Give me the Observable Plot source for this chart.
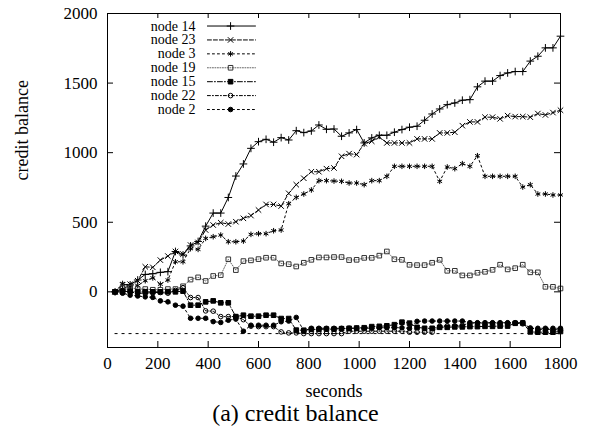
<!DOCTYPE html>
<html><head><meta charset="utf-8">
<script src="https://cdn.jsdelivr.net/npm/d3@7"></script>
<script src="https://cdn.jsdelivr.net/npm/@observablehq/plot@0.6"></script>
<style>
body{margin:0;background:#fff;font-family:"Liberation Serif",serif;}
svg text{font-family:"Liberation Serif",serif !important;}
#caption{width:591px;text-align:center;font-size:24px;line-height:23px;height:24px;color:#000;font-family:"Liberation Serif",serif;}
</style></head><body>
<div id="chart"></div><div id="caption">(a) credit balance</div>
<script>
const seconds = d3.range(30, 1801, 30);
const node14 = [0,20,50,85,125,130,140,145,290,265,330,
 362,472,566,566,678,832,919,1031,1079,1096,1075,
 1108,1091,1158,1144,1156,1199,1168,1170,1118,1142,1166,
 1070,1106,1125,1125,1147,1166,1183,1190,1233,1278,1314,
 1345,1357,1377,1381,1473,1514,1514,1554,1573,1583,1583,
 1658,1693,1753,1753,1837];
const node23 = [0,50,55,80,180,176,228,257,290,271,336,
 355,444,480,497,487,504,528,548,588,628,628,
 616,708,770,816,863,863,885,890,974,993,986,
 1065,1082,1113,1070,1070,1070,1070,1099,1099,1099,1142,
 1142,1147,1194,1221,1221,1255,1255,1243,1266,1259,1259,
 1255,1281,1271,1288,1305];
const node3 = [0,60,40,45,80,100,55,85,216,216,310,
 305,384,396,408,360,360,365,413,418,418,439,
 444,633,679,703,732,799,799,796,794,782,782,
 770,799,799,830,902,902,902,902,902,902,794,
 897,885,921,902,978,830,830,830,830,830,753,
 770,703,703,696,696];
const node19 = [0,30,30,20,20,15,15,20,20,40,88,
 104,78,114,120,234,156,221,226,235,245,245,
 204,199,182,209,230,247,247,250,250,228,230,
 244,244,260,290,234,230,194,192,192,209,230,
 151,151,118,118,137,144,158,195,161,170,195,
 140,140,36,36,24];
const node15 = [0,0,5,0,0,0,0,0,0,5,-96,
 -96,-72,-65,-79,-79,-178,-168,-175,-175,-168,-168,
 -192,-192,-275,-276,-270,-270,-268,-268,-265,-262,-260,
 -258,-250,-248,-244,-236,-218,-225,-255,-262,-262,-255,
 -255,-252,-252,-250,-250,-248,-248,-246,-246,-226,-224,
 -288,-290,-290,-290,-285];
const node22 = [0,10,0,-10,-10,-5,-5,-10,10,30,-41,
 -41,-137,-139,-178,-178,-178,-200,-247,-250,-250,-250,
 -288,-295,-295,-300,-300,-300,-300,-300,-300,-283,-283,
 -283,-283,-283,-283,-283,-283,-290,-290,-290,-290,-250,
 -245,-245,-240,-224,-224,-224,-224,-224,-224,-224,-230,
 -260,-270,-270,-270,-275];
const node2 = [0,-10,-24,-30,-36,-40,-65,-72,-96,-103,-190,
 -190,-190,-214,-220,-204,-196,-283,-240,-240,-240,-240,
 -215,-210,-184,-280,-262,-262,-262,-262,-262,-262,-262,
 -262,-262,-258,-258,-258,-258,-262,-212,-210,-210,-210,
 -210,-210,-210,-222,-222,-222,-222,-222,-222,-222,-222,
 -262,-262,-262,-262,-262];
const seriesNames = ["node 14","node 23","node 3","node 19","node 15","node 22","node 2"];
const seriesValues = [node14,node23,node3,node19,node15,node22,node2];
const xTicks = [0,200,400,600,800,1000,1200,1400,1600,1800];
const yTicks = [0,500,1000,1500,2000];
const creditLimit = -300;

const styles = [
  {dash:null,        symbol:"plus",     fill:"none",  stroke:"black", line:"black", r:2.6},
  {dash:"4,2",       symbol:"times",    fill:"none",  stroke:"black", line:"black", r:2.6},
  {dash:"2,3",       symbol:"asterisk", fill:"none",  stroke:"black", line:"black", r:2.6},
  {dash:"1,1.5",     symbol:"square",   fill:"none",  stroke:"#333",  line:"#666",  r:2.6},
  {dash:"5,2,1,2",   symbol:"square",   fill:"black", stroke:"black", line:"black", r:2.6},
  {dash:"3,2,1,2",   symbol:"circle",   fill:"none",  stroke:"black", line:"black", r:2.3},
  {dash:"2,3",       symbol:"circle",   fill:"black", stroke:"black", line:"black", r:2.3}
];

const W = 591, H = 402, mL = 107, mR = 31, mT = 13, mB = 55;
const fw = W - mL - mR, fh = H - mT - mB;
const serif = "Liberation Serif";

const series = seriesNames.map((name, i) => ({
  name, style: styles[i],
  data: seconds.map((t, j) => ({t, v: seriesValues[i][j]}))
}));

// legend placement (data units)
const legX = 350, legX1 = 397, legX2 = 588, legXm = 489, legTop = 1910, legStep = 100;

const marks = [
  Plot.ruleY([creditLimit], {x1: seconds[0], x2: seconds[seconds.length - 1], stroke: "black", strokeWidth: 1, strokeDasharray: "3,4"}),
  ...series.map(s => Plot.line(s.data, {x: "t", y: "v", stroke: s.style.line, strokeWidth: 1, strokeDasharray: s.style.dash})),
  ...series.map(s => Plot.dot(s.data, {x: "t", y: "v", symbol: s.style.symbol, r: s.style.r, fill: s.style.fill, stroke: s.style.stroke, strokeWidth: 1})),
  Plot.frame({stroke: "black", strokeWidth: 1}),
  Plot.tickX(xTicks, {x: d => d, insetTop: fh - 6, stroke: "black"}),
  Plot.tickX(xTicks, {x: d => d, insetBottom: fh - 5, stroke: "black"}),
  Plot.tickY(yTicks, {y: d => d, insetRight: fw - 6, stroke: "black"}),
  Plot.tickY(yTicks, {y: d => d, insetLeft: fw - 6, stroke: "black"}),
  Plot.text(xTicks, {x: d => d, frameAnchor: "bottom", dy: 21, text: d => String(d), fontSize: 17, fontFamily: serif}),
  Plot.text(yTicks, {y: d => d, frameAnchor: "left", dx: -10, textAnchor: "end", text: d => String(d), fontSize: 17, fontFamily: serif}),
  Plot.text(["seconds"], {frameAnchor: "bottom", dy: 49, text: d => d, fontSize: 18, fontFamily: serif}),
  Plot.text(["credit balance"], {frameAnchor: "left", dx: -85, rotate: -90, text: d => d, fontSize: 18, fontFamily: serif}),
  ...series.map((s, i) => Plot.text([s.name], {x: legX, y: legTop - i * legStep, text: d => d, textAnchor: "end", fontSize: 14, fontFamily: serif})),
  ...series.map((s, i) => Plot.line([[legX1, legTop - i * legStep], [legX2, legTop - i * legStep]], {x: d => d[0], y: d => d[1], stroke: s.style.line, strokeWidth: 1, strokeDasharray: s.style.dash})),
  ...series.map((s, i) => Plot.dot([[legXm, legTop - i * legStep]], {x: d => d[0], y: d => d[1], symbol: s.style.symbol, r: s.style.r, fill: s.style.fill, stroke: s.style.stroke, strokeWidth: 1}))
];

const chart = Plot.plot({
  width: W, height: H,
  marginLeft: mL, marginRight: mR, marginTop: mT, marginBottom: mB,
  x: {domain: [0, 1800], axis: null},
  y: {domain: [-400, 2000], axis: null},
  style: {fontFamily: serif, fontSize: "16px", background: "white", color: "black"},
  marks
});
document.getElementById("chart").appendChild(chart);
</script>
</body></html>
